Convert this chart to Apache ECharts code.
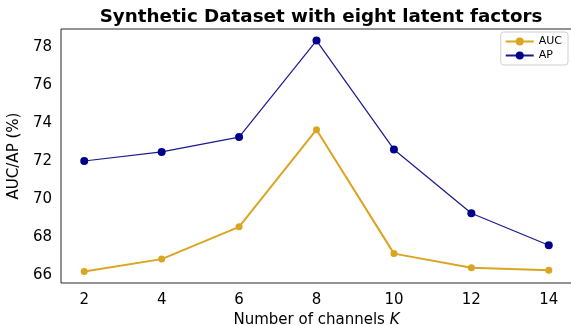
<!DOCTYPE html>
<html>
<head>
<meta charset="utf-8">
<script src="https://cdn.jsdelivr.net/npm/echarts@6/dist/echarts.min.js"></script>
<style>html,body{margin:0;padding:0;background:#fff;}#c{width:571px;height:325px;}</style>
</head>
<body>
<div id="c"></div>
<script>
var channels = [2, 4, 6, 8, 10, 12, 14];
var aucValues = [66.2, 66.85, 68.55, 73.67, 67.14, 66.4, 66.27];
var apValues = [72.02, 72.5, 73.28, 78.37, 72.63, 69.27, 67.58];
var xTicks = [2, 4, 6, 8, 10, 12, 14];
var yTicks = [66, 68, 70, 72, 74, 76, 78];

var allY = aucValues.concat(apValues);
var yLo = Math.min.apply(null, allY), yHi = Math.max.apply(null, allY);
var yPad = (yHi - yLo) * 0.05;
var xLo = Math.min.apply(null, channels), xHi = Math.max.apply(null, channels);
var xPad = (xHi - xLo) * 0.05;

function pairs(xs, ys) { return xs.map(function (x, i) { return [x, ys[i]]; }); }

var font = 'DejaVu Sans';
var chart = echarts.init(document.getElementById('c'), null, { renderer: 'canvas' });
chart.setOption({
  animation: false,
  backgroundColor: '#fff',
  title: {
    text: 'Synthetic Dataset with eight latent factors',
    left: 316, top: 3, textAlign: 'center',
    textStyle: { fontFamily: font, fontWeight: 'bold', fontSize: 18.3, color: '#000' }
  },
  grid: {
    left: 61, top: 29, width: 511, height: 254,
    outerBoundsMode: 'none', containLabel: false,
    show: true, borderColor: '#262626', borderWidth: 1, backgroundColor: 'transparent'
  },
  legend: {
    right: 3, top: 32, orient: 'vertical',
    itemWidth: 28, itemHeight: 10, itemGap: 3,
    padding: [4, 6, 4, 4],
    borderColor: '#d0d0d0', borderWidth: 1, borderRadius: 3,
    textStyle: { fontFamily: font, fontSize: 11, color: '#000' },
    data: ['AUC', 'AP']
  },
  xAxis: {
    type: 'value', min: xLo - xPad, max: xHi + xPad,
    name: 'Number of channels {i|K}',
    nameLocation: 'middle', nameGap: 29,
    nameTextStyle: { fontFamily: font, fontSize: 15, color: '#000',
      rich: { i: { fontFamily: font, fontStyle: 'italic', fontSize: 15, color: '#000' } } },
    axisLine: { show: false }, axisTick: { show: false }, splitLine: { show: false },
    axisLabel: { customValues: xTicks, fontFamily: font, fontSize: 15, color: '#000', margin: 10 }
  },
  yAxis: {
    type: 'value', min: yLo - yPad, max: yHi + yPad,
    name: 'AUC/AP (%)', nameLocation: 'middle', nameGap: 30,
    nameTextStyle: { fontFamily: font, fontSize: 15, color: '#000' },
    axisLine: { show: false }, axisTick: { show: false }, splitLine: { show: false },
    axisLabel: { customValues: yTicks, fontFamily: font, fontSize: 15, color: '#000', margin: 9 }
  },
  series: [
    {
      name: 'AUC', type: 'line', data: pairs(channels, aucValues),
      symbol: 'circle', symbolSize: 7,
      lineStyle: { color: '#DAA520', width: 2 },
      itemStyle: { color: '#DAA520' }
    },
    {
      name: 'AP', type: 'line', data: pairs(channels, apValues),
      symbol: 'circle', symbolSize: 8,
      lineStyle: { color: '#1a1a8f', width: 1.2 },
      itemStyle: { color: '#00008B' }
    }
  ]
});
</script>
</body>
</html>
